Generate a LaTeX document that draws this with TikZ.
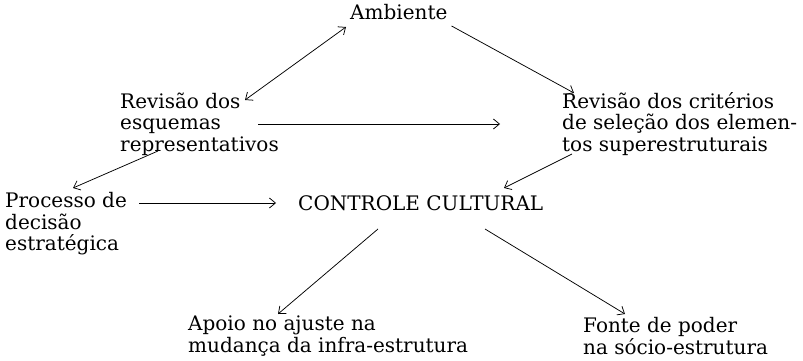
\documentclass[tikz,border=0pt]{standalone}
\usepackage{fontspec}
\setmainfont{DejaVu Serif}
\usetikzlibrary{arrows.meta,calc}
\tikzset{
  txt/.style={inner sep=0pt, anchor=west, align=left, font=\fontsize{20}{21.5}\selectfont},
  tipv/.tip={Straight Barb[length=6pt,width=10pt,line width=0.75pt]},
  arr/.style={line width=0.75pt, -tipv},
  darr/.style={line width=0.75pt, tipv-tipv}
}
\begin{document}
\begin{tikzpicture}[x=1pt,y=-1pt]
\useasboundingbox (0,0) rectangle (803,361);
\node[txt] (amb) at (350,12) {Ambiente};
\node[txt] (rev1) at (120,124) {Revisão dos\\esquemas\\representativos};
\node[txt] (rev2) at (562,124) {Revisão dos critérios\\de seleção dos elemen-\\tos superestruturais};
\node[txt] (proc) at (5,224) {Processo de\\decisão\\estratégica};
\node[txt] (cc) at (298,203) {CONTROLE CULTURAL};
\node[txt] (apoio) at (188,336) {Apoio no ajuste na\\mudança da infra-estrutura};
\node[txt] (fonte) at (583,336) {Fonte de poder\\na sócio-estrutura};
% connectors
\draw[darr] ($(rev1.west)+(125,-24)$) -- ($(amb.west)+(-4,15)$);
\draw[arr] ($(amb.east)+(4,14)$) -- ($(rev2.west)+(12,-31)$);
\draw[arr] ($(rev1.west)+(138,0)$) -- ($(rev2.west)+(-62,0)$);
\draw[arr] ($(rev1.west)+(38,27)$) -- ($(proc.west)+(68,-36)$);
\draw[arr] ($(proc.west)+(134,-21)$) -- ($(cc.west)+(-22,0)$);
\draw[arr] ($(rev2.west)+(10,30)$) -- ($(cc.west)+(206,-15)$);
\draw[arr] ($(cc.west)+(80,26)$) -- ($(apoio.west)+(90,-22)$);
\draw[arr] ($(cc.west)+(187,26)$) -- ($(fonte.west)+(42,-22)$);
\end{tikzpicture}
\end{document}
